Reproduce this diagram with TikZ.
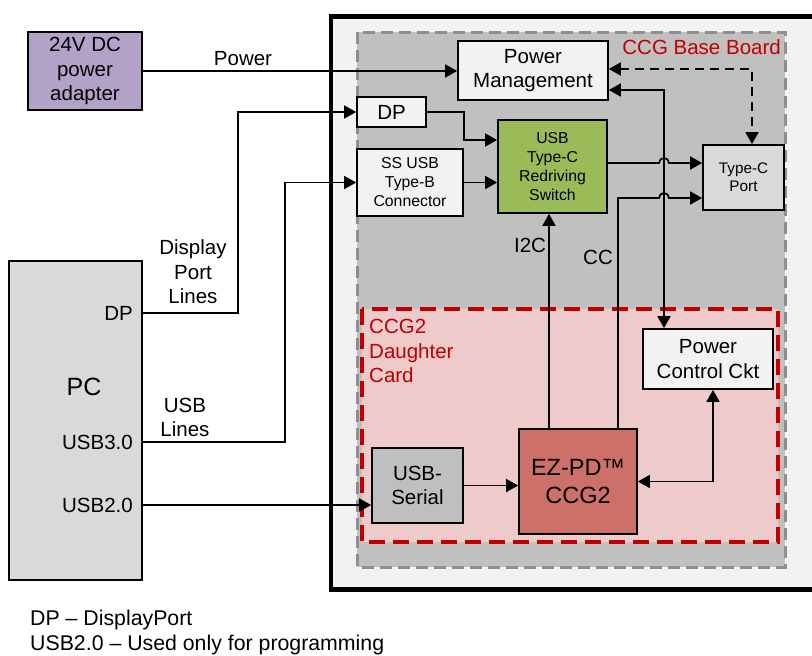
\documentclass[tikz,border=0pt]{standalone}
\usepackage{fontspec}
\setmainfont{Liberation Sans}
\usetikzlibrary{arrows.meta,calc}
\definecolor{outerfill}{HTML}{F2F2F2}
\definecolor{basefill}{HTML}{C0C0C0}
\definecolor{basedash}{HTML}{8F8F8F}
\definecolor{redline}{HTML}{C00000}
\definecolor{pinkfill}{HTML}{EECBCA}
\definecolor{greenfill}{HTML}{9BBB59}
\definecolor{ezfill}{HTML}{CD7069}
\definecolor{purplefill}{HTML}{B3A2C7}
\definecolor{lightgray}{HTML}{D9D9D9}
\definecolor{midgray}{HTML}{BFBFBF}
\definecolor{boxwhite}{HTML}{F2F2F2}
\tikzset{
  box/.style={draw=black, line width=1.7pt, align=center, inner sep=0pt,
    font=\fontsize{20.5}{24.5}\selectfont},
  smallbox/.style={box, font=\fontsize{15.8}{19}\selectfont},
  lbl/.style={align=center, inner sep=0pt, font=\fontsize{20.5}{24.5}\selectfont},
  redlbl/.style={lbl, text=redline},
  arr/.style={line width=1.7pt, -{Triangle[length=12pt,width=13pt]}},
  barr/.style={line width=1.7pt, {Triangle[length=12pt,width=13pt]}-{Triangle[length=12pt,width=13pt]}},
}
\begin{document}
\begin{tikzpicture}[x=1pt,y=-1pt]
\useasboundingbox (0,0) rectangle (812,656);
% frames
\draw[line width=4.5pt, fill=outerfill] (331,16.5) rectangle (830,589.5);
\draw[line width=3pt, draw=basedash, fill=basefill, dash pattern=on 12pt off 6pt] (357,32) rectangle (785,567);
\draw[line width=3.5pt, draw=redline, fill=pinkfill, dash pattern=on 16pt off 8pt] (362,309) rectangle (778,542);
\node[redlbl, anchor=east] (basel) at (781,47) {CCG Base Board};
\node[redlbl, align=left, anchor=west] (dcl) at (369,351) {CCG2\\Daughter\\Card};
% nodes
\node[box, fill=purplefill, minimum width=114pt, minimum height=78pt] (adp) at (85,71) {24V DC\\power\\adapter};
\node[box, fill=lightgray, minimum width=133pt, minimum height=319pt] (pc) at (75.5,420.5) {};
\node[lbl, font=\fontsize{25}{28}\selectfont] (pcl) at (84,387) {PC};
\node[lbl, anchor=east] (pcdp) at (133,313) {DP};
\node[lbl, anchor=east] (pcu3) at (133,442) {USB3.0};
\node[lbl, anchor=east] (pcu2) at (133,505) {USB2.0};
\node[box, fill=boxwhite, minimum width=150pt, minimum height=59pt] (pm) at (533,70.5) {Power\\Management};
\node[box, fill=boxwhite, minimum width=69pt, minimum height=30pt] (dpb) at (391.5,112) {DP};
\node[smallbox, fill=boxwhite, minimum width=106pt, minimum height=67pt] (ssb) at (410,182.5) {SS USB\\Type-B\\Connector};
\node[smallbox, fill=greenfill, minimum width=109pt, minimum height=93pt] (sw) at (552.5,166.5) {USB\\Type-C\\Redriving\\Switch};
\node[smallbox, font=\fontsize{15.3}{18}\selectfont, fill=lightgray, minimum width=81pt, minimum height=65pt] (tc) at (743.5,177.5) {Type-C\\Port};
\node[box, fill=boxwhite, minimum width=130pt, minimum height=60pt] (pcc) at (708,359) {Power\\Control Ckt};
\node[box, font=\fontsize{23.5}{28}\selectfont, fill=ezfill, minimum width=118pt, minimum height=105pt] (ez) at (578,481.5) {EZ-PD™\\CCG2};
\node[box, fill=midgray, minimum width=91pt, minimum height=75pt] (us) at (417.5,485.5) {USB-\\Serial};
% labels
\node[lbl] (powl) at (243,59) {Power};
\node[lbl] (dpl) at (193,272) {Display\\Port\\Lines};
\node[lbl] (usbl) at (185,417.5) {USB\\Lines};
\node[lbl] (i2cl) at (530,245) {I2C};
\node[lbl] (ccl) at (598,257) {CC};
\node[lbl, font=\fontsize{21.3}{25}\selectfont, anchor=west] (fn1) at (30,620) {DP – DisplayPort};
\node[lbl, font=\fontsize{21.3}{25}\selectfont, anchor=west] (fn2) at (30,645) {USB2.0 – Used only for programming};
% connectors
\draw[arr] (adp.east) -- (adp.east -| pm.west);
\draw[barr, dash pattern=on 9pt off 6pt] ([yshift=1.5pt]pm.east) -| ([xshift=8.5pt]tc.north);
\draw[barr] ([yshift=-19.5pt]pm.east) -| ([xshift=-44pt]pcc.north);
\draw[arr] (dpb.east) -- ++(37,0) |- ([yshift=26.5pt]sw.west);
\draw[arr] (ssb.east) -- (ssb.east -| sw.west);
\draw[arr] ([yshift=3.5pt]sw.east) -- (659,163) arc (180:360:5) -- ([yshift=14.5pt]tc.west);
\draw[arr] ([xshift=40pt]ez.north) |- (659,198) arc (180:360:5) -- ([yshift=-20.5pt]tc.west);
\draw[arr] ([xshift=-29pt]ez.north) -- ([xshift=-29pt]ez.north |- sw.south);
\draw[arr] (us.east) -- (us.east -| ez.west);
\draw[barr] (ez.east) -| ([xshift=5pt]pcc.south);
\draw[arr] (pcdp.east -| pc.east) -- ++(95,0) |- (dpb.west);
\draw[arr] (pcu3.east -| pc.east) -- ++(142,0) |- (ssb.west);
\draw[arr] (pcu2.east -| pc.east) -- (pcu2.east -| us.west);
\end{tikzpicture}
\end{document}
